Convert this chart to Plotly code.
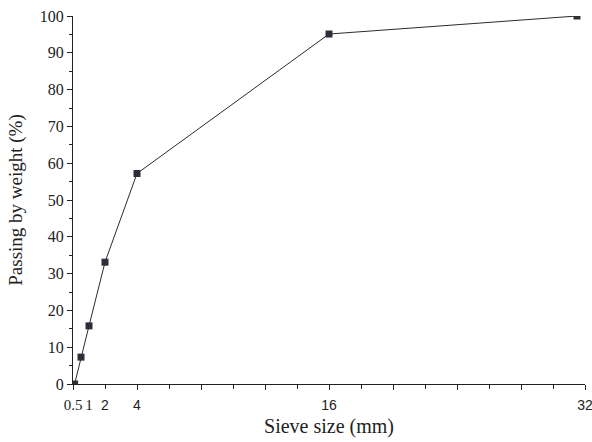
import plotly.graph_objects as go

sieve_size = [0.1, 0.5, 1, 2, 4, 16, 31.5]
passing = [0, 7.3, 15.8, 33.1, 57.2, 95.1, 100]

tick_vals = [0, 1, 2, 4, 16, 32]
tick_text = ["0.5", "1", "2", "4", "16", "32"]
y_ticks = [0, 10, 20, 30, 40, 50, 60, 70, 80, 90, 100]

serif = "Liberation Serif"
sans = "Liberation Sans"

fig = go.Figure()
fig.add_trace(go.Scatter(
    x=sieve_size, y=passing, mode="lines+markers",
    line=dict(color="#2a2a33", width=1),
    marker=dict(symbol="square", size=7, color="#2e2e38"),
    showlegend=False,
))
# dummy trace for secondary x-axis (ticks every 2)
fig.add_trace(go.Scatter(x=[0, 32], y=[None, None], xaxis="x2", showlegend=False, hoverinfo="skip"))

text_labels = []
for t in tick_text:
    if t in ("0.5", "1"):
        text_labels.append(t)
    else:
        text_labels.append(f"<span style='font-family:{sans};font-size:14px'>{t}</span>")

fig.update_layout(
    width=592, height=442,
    margin=dict(l=73, r=7, t=16, b=58, autoexpand=False),
    paper_bgcolor="white", plot_bgcolor="white",
    font=dict(family=serif, size=15, color="#222"),
    xaxis=dict(
        range=[0, 32], tickmode="array", tickvals=tick_vals, ticktext=text_labels,
        ticks="outside", ticklen=7, tickcolor="rgba(0,0,0,0)", ticklabeloverflow="allow",
        automargin=False,
        showgrid=False, zeroline=False, showline=True, linecolor="#222", linewidth=1.2,
        tickfont=dict(family=serif, size=15, color="#222"),
        title=dict(text="Sieve size (mm)", font=dict(family=serif, size=20, color="#222"), standoff=6),
    ),
    xaxis2=dict(
        range=[0, 32], overlaying="x", side="bottom", anchor="y", automargin=False,
        tickmode="linear", tick0=0, dtick=4, ticks="outside", ticklen=5, tickwidth=1, tickcolor="#222",
        showticklabels=False, showgrid=False, zeroline=False, showline=False,
        minor=dict(dtick=2, tick0=0, ticks="outside", ticklen=4, tickwidth=1, tickcolor="#222", showgrid=False),
    ),
    yaxis=dict(
        range=[0, 100], tickmode="array", tickvals=y_ticks, automargin=False,
        ticks="outside", ticklen=5, tickwidth=1, tickcolor="#222",
        minor=dict(dtick=5, tick0=0, ticks="outside", ticklen=3, tickwidth=1, tickcolor="#222", showgrid=False),
        showgrid=False, zeroline=False, showline=True, linecolor="#222", linewidth=1.2,
        tickfont=dict(family=serif, size=16, color="#222"),
        title=dict(text="Passing by weight (%)", font=dict(family=serif, size=19, color="#222"), standoff=12),
    ),
)

fig.write_html("out.html")
